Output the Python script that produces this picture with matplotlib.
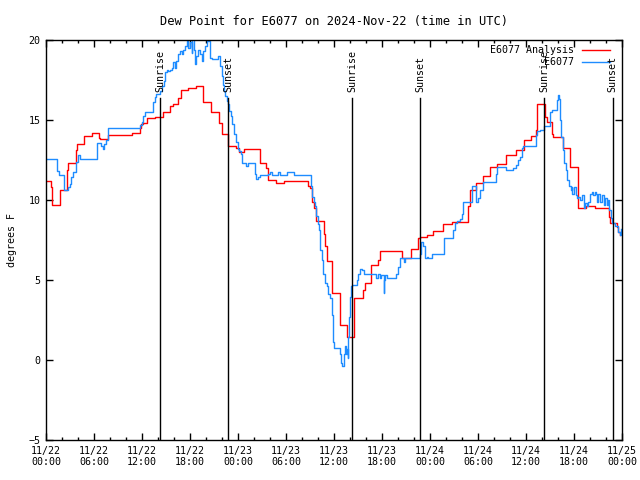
import matplotlib
matplotlib.use('Agg')
import matplotlib.pyplot as plt
from matplotlib.ticker import MultipleLocator

# hours since 11/22 00:00 UTC
analysis_hours = [0.0, 0.6, 0.8, 1.7, 2.65, 2.8, 3.7, 3.9, 4.75, 5.8, 6.6, 6.75, 7.7, 10.7, 11.7,
                  11.9, 12.15, 12.6, 13.6, 14.6, 15.5, 15.9, 16.5, 16.85, 17.8, 18.75, 19.6, 20.6,
                  21.6, 21.95, 22.75, 23.8, 24.1, 24.7, 26.7, 26.8, 27.5, 27.8, 28.75, 29.7, 32.7,
                  33.0, 33.3, 33.45, 33.75, 34.7, 34.85, 35.1, 35.7, 35.8, 36.7, 37.6, 38.5, 39.6,
                  39.9, 40.6, 41.5, 41.7, 44.5, 45.6, 46.5, 46.75, 47.6, 48.4, 49.6, 50.7, 52.7,
                  53.0, 53.75, 54.6, 55.5, 56.4, 57.5, 58.75, 59.7, 60.6, 61.25, 61.4, 62.4, 62.6,
                  63.3, 63.4, 64.6, 65.5, 66.45, 66.55, 67.5, 68.6, 70.4, 70.5, 71.4, 71.5, 71.75]
analysis_vals = [11.2, 10.8, 9.7, 10.6, 11.9, 12.3, 13.1, 13.5, 14.0, 14.2, 13.9, 13.8, 14.05, 14.2, 14.5,
                 14.75, 14.8, 15.1, 15.2, 15.5, 15.9, 16.0, 16.4, 16.9, 17.0, 17.1, 16.1, 15.5,
                 14.8, 14.1, 13.4, 13.25, 13.0, 13.2, 12.8, 12.3, 12.0, 11.25, 11.05, 11.2, 10.85,
                 10.75, 9.9, 9.5, 8.7, 7.9, 7.1, 6.2, 5.6, 4.2, 2.2, 1.45, 3.9, 4.4,
                 4.8, 5.95, 6.25, 6.8, 6.35, 6.95, 7.6, 7.67, 7.8, 8.05, 8.5, 8.6, 9.6,
                 10.65, 11.05, 11.5, 12.05, 12.25, 12.8, 13.15, 13.75, 14.0, 14.4, 16.0, 15.2, 14.9,
                 14.15, 13.95, 13.25, 12.05, 10.6, 9.5, 9.6, 9.5, 8.95, 8.55, 8.3, 8.0, 7.8]

obs_hours = [0.0, 1.35, 1.6, 2.2, 2.75, 3.0, 3.17, 3.4, 3.8, 4.0, 4.2, 6.35, 6.9, 7.1, 7.25, 7.5, 7.75,
             11.7, 12.0, 12.15, 12.4, 13.4, 13.6, 13.8, 14.25, 14.45, 14.7, 14.9, 15.1, 15.3, 15.5,
             15.7, 15.9, 16.1, 16.3, 16.5, 16.75, 16.95, 17.15, 17.4, 17.6, 17.8, 18.0, 18.2, 18.3,
             18.5, 18.6, 18.8, 19.0, 19.25, 19.45, 19.65, 19.9, 20.1, 20.3, 20.5, 20.7, 21.5, 21.75,
             21.95, 22.1, 22.25, 22.4, 22.6, 22.8, 22.9, 23.1, 23.25, 23.5, 23.75, 23.95, 24.15,
             24.35, 24.5, 25.0, 25.3, 26.1, 26.3, 26.5, 26.75, 27.8, 28.0, 28.2, 29.0, 29.25, 30.1,
             31.0, 33.1, 33.3, 33.5, 33.6, 33.8, 34.0, 34.15, 34.3, 34.45, 34.65, 34.9, 35.1, 35.3,
             35.5, 35.7, 35.9, 36.0, 36.75, 36.9, 37.05, 37.2, 37.3, 37.4, 37.5, 37.6, 37.7, 37.8,
             37.9, 38.0, 38.1, 38.3, 38.9, 39.05, 39.25, 39.5, 39.7, 41.3, 41.5, 41.7, 41.9, 42.2,
             42.3, 42.4, 42.6, 43.8, 44.0, 44.2, 44.7, 44.9, 45.8, 46.75, 46.9, 47.15, 47.4, 47.6,
             47.8, 48.2, 49.75, 50.9, 51.1, 51.4, 51.75, 51.95, 52.1, 53.3, 53.6, 53.8, 54.0, 54.2,
             54.6, 56.3, 56.4, 57.5, 58.4, 58.75, 59.0, 59.3, 59.5, 59.6, 61.25, 61.35, 61.75, 62.25,
             63.0, 63.2, 63.9, 64.0, 64.15, 64.25, 64.4, 64.6, 64.75, 65.0, 65.15, 65.4, 65.6, 65.7,
             65.8, 66.0, 66.2, 66.35, 66.55, 66.75, 66.95, 67.2, 67.4, 67.6, 67.8, 68.0, 68.2, 68.4,
             68.6, 68.8, 68.9, 69.0, 69.25, 69.5, 69.7, 69.9, 70.1, 70.3, 70.4, 70.6, 70.8, 71.1,
             71.5, 71.7, 71.85]
obs_vals = [12.55, 11.8, 11.55, 10.6, 10.8, 11.0, 11.45, 11.75, 12.4, 12.8, 12.55, 13.55, 13.4, 13.2, 13.5, 13.75, 14.5,
            14.7, 14.9, 15.25, 15.5, 16.1, 16.45, 16.6, 16.8, 17.1, 17.45, 18.0, 18.15, 18.05, 18.15,
            18.25, 18.6, 18.25, 18.7, 19.1, 19.3, 19.1, 19.4, 19.6, 19.95, 19.5, 19.85, 19.2, 20.3,
            19.4, 18.5, 19.0, 19.4, 19.1, 18.7, 19.3, 19.6, 20.3, 19.95, 18.9, 18.8, 19.0, 18.4,
            17.75, 17.2, 16.8, 16.5, 16.2, 16.0, 15.55, 15.25, 14.75, 14.1, 13.6, 13.2, 13.05,
            12.9, 12.3, 12.15, 12.3, 11.65, 11.3, 11.45, 11.55, 11.65, 11.75, 11.55, 11.75, 11.55, 11.75,
            11.55, 10.85, 10.2, 9.9, 9.6, 9.0, 8.5, 8.1, 6.9, 6.25, 5.4, 4.8, 4.6, 4.15,
            3.85, 2.8, 1.15, 0.75, 0.4, -0.2, -0.4, 0.0, 0.4, 0.85, 0.4, 0.7, 0.1, 1.45,
            2.7, 3.95, 4.6, 4.7, 5.0, 5.4, 5.7, 5.6, 5.4, 5.15, 5.4, 5.1, 5.3, 4.2,
            5.0, 5.3, 5.1, 5.4, 5.8, 6.35, 6.15, 6.35, 6.4, 6.6, 7.35, 7.1, 6.35, 6.45,
            6.35, 6.6, 7.6, 8.1, 8.55, 8.7, 8.8, 9.15, 9.9, 10.85, 10.9, 9.9, 10.1, 10.65,
            11.1, 11.6, 12.05, 11.85, 12.0, 12.2, 12.5, 12.7, 13.25, 13.35, 14.05, 14.3, 14.4, 14.6,
            15.5, 15.6, 16.25, 16.55, 16.3, 15.0, 13.95, 13.1, 12.3, 11.9, 11.25, 10.85, 10.6, 10.8,
            10.4, 10.8, 10.3, 10.1, 10.2, 10.0, 10.3, 9.5, 9.8, 9.6, 9.9, 10.4, 10.5, 10.3,
            10.5, 10.4, 9.9, 10.4, 9.9, 10.3, 9.7, 10.1, 9.7, 10.0, 9.4, 8.85, 8.55, 8.35,
            8.0, 7.8, 8.2]

sun_hours = [14.3, 22.75, 38.3, 46.75, 62.3, 70.85]
sun_labels = ['Sunrise', 'Sunset', 'Sunrise', 'Sunset', 'Sunrise', 'Sunset']

tick_labels = ['11/22\n00:00', '11/22\n06:00', '11/22\n12:00', '11/22\n18:00',
               '11/23\n00:00', '11/23\n06:00', '11/23\n12:00', '11/23\n18:00',
               '11/24\n00:00', '11/24\n06:00', '11/24\n12:00', '11/24\n18:00',
               '11/25\n00:00']

plt.rcParams['font.family'] = ['DejaVu Sans Mono']
plt.rcParams['font.size'] = 7.2

fig = plt.figure(figsize=(6.4, 4.8), dpi=100)
ax = fig.add_axes([46 / 640, 40 / 480, 576 / 640, 400 / 480])

ax.plot(analysis_hours, analysis_vals, color='#ff0000', lw=1.0, drawstyle='steps-post')
ax.plot(obs_hours, obs_vals, color='#1e8cff', lw=1.0, drawstyle='steps-post')

for h, lab in zip(sun_hours, sun_labels):
    ax.plot([h, h], [0, 0.855], color='black', lw=1.0,
            transform=ax.get_xaxis_transform())
    ax.text(h, 0.87, lab, rotation=90, ha='center', va='bottom',
            transform=ax.get_xaxis_transform())

# legend, gnuplot style
for i, (lab, col) in enumerate([('E6077 Analysis', '#ff0000'), ('E6077', '#1e8cff')]):
    y = 0.975 - i * 0.03
    ax.text(0.917, y, lab, ha='right', va='center', transform=ax.transAxes)
    ax.plot([0.93, 0.979], [y, y], color=col, lw=1.0, transform=ax.transAxes)

ax.set_xlim(0, 72)
ax.set_ylim(-5, 20)
ax.set_xticks(range(0, 73, 6))
ax.set_xticklabels(tick_labels)
ax.xaxis.set_minor_locator(MultipleLocator(2))
ax.yaxis.set_major_locator(MultipleLocator(5))
ax.tick_params(which='both', direction='in', top=True, right=True, width=1.0)
ax.tick_params(which='major', length=5, pad=4)
ax.tick_params(which='minor', length=2.5)
for s in ax.spines.values():
    s.set_linewidth(1.0)

ax.set_title('Dew Point for E6077 on 2024-Nov-22 (time in UTC)', pad=11)
ax.set_ylabel('degrees F', labelpad=8)

fig.savefig('out.png', dpi=100)
